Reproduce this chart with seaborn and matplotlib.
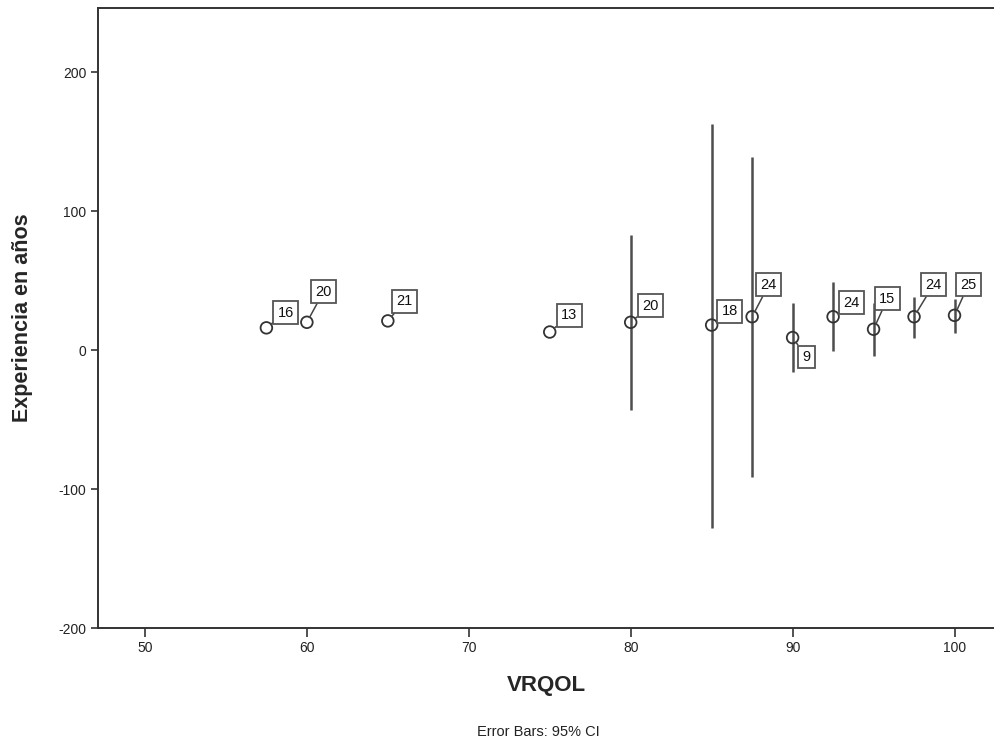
import matplotlib
matplotlib.use("Agg")
import matplotlib.pyplot as plt
import seaborn as sns
import pandas as pd
import numpy as np

# data
vrqol = [57.5, 60, 65, 75, 80, 85, 87.5, 90, 92.5, 95, 97.5, 100]
mean_exp = [16, 20, 21, 13, 20, 18, 24, 9, 24, 15, 24, 25]
ci_low = [np.nan, np.nan, np.nan, np.nan, -43, -128, -91, -16, -1, -4, 9, 12]
ci_high = [np.nan, np.nan, np.nan, np.nan, 83, 163, 139, 34, 49, 34, 38, 37]

# label box offsets (points) relative to each marker
label_offsets = [(14, 11), (12, 22), (12, 14), (14, 12), (14, 12), (13, 10),
                 (12, 23), (10, -14), (13, 10), (10, 22), (14, 23), (10, 22)]

sns.set_style("white")
plt.rcParams["font.family"] = ["Liberation Sans", "DejaVu Sans"]
plt.rcParams["axes.unicode_minus"] = False

df = pd.DataFrame({"VRQOL": vrqol, "mean": mean_exp, "lo": ci_low, "hi": ci_high})

fig = plt.figure(figsize=(9.95, 7.45), dpi=100)
ax = fig.add_axes([0.0985, 0.157, 0.9015, 0.832])

line_col = "#4d4d4d"
ci = df.dropna()
ax.vlines(ci["VRQOL"], ci["lo"], ci["hi"], color=line_col, linewidth=1.8, zorder=2)

sns.scatterplot(data=df, x="VRQOL", y="mean", ax=ax, marker="o", s=70,
                facecolor="none", edgecolor="#333333", linewidth=1.3, zorder=3)

for (x, m), (dx, dy) in zip(zip(df["VRQOL"], df["mean"]), label_offsets):
    ax.annotate(f"{m:.0f}", xy=(x, m), xytext=(dx, dy), textcoords="offset points",
                ha="center", va="center", fontsize=10.5, color="#111111",
                bbox=dict(boxstyle="square,pad=0.3", fc="white", ec="#555555", lw=1.3),
                arrowprops=dict(arrowstyle="-", color="#444444", lw=1.1,
                                shrinkA=0, shrinkB=4))

ax.set_xlim(47.1, 102.5)
ax.set_ylim(-200, 246)
ax.set_xticks([50, 60, 70, 80, 90, 100])
ax.set_yticks([-200, -100, 0, 100, 200])
ax.tick_params(axis="both", direction="out", length=5, width=1.2, color="#333333",
               labelsize=10, labelcolor="#222222", bottom=True, left=True)
ax.tick_params(axis="x", length=6.5, pad=3)

for side in ["left", "bottom", "top"]:
    ax.spines[side].set_color("#333333")
    ax.spines[side].set_linewidth(1.4)
ax.spines["right"].set_visible(False)

ax.set_xlabel("VRQOL", fontsize=16, fontweight="bold", labelpad=14)
ax.set_ylabel("Experiencia en años", fontsize=15.5, fontweight="bold", labelpad=18)

fig.text(0.541, 0.018, "Error Bars: 95% CI", ha="center", va="center",
         fontsize=10.5, color="#222222")

fig.savefig("out.png", dpi=100)
